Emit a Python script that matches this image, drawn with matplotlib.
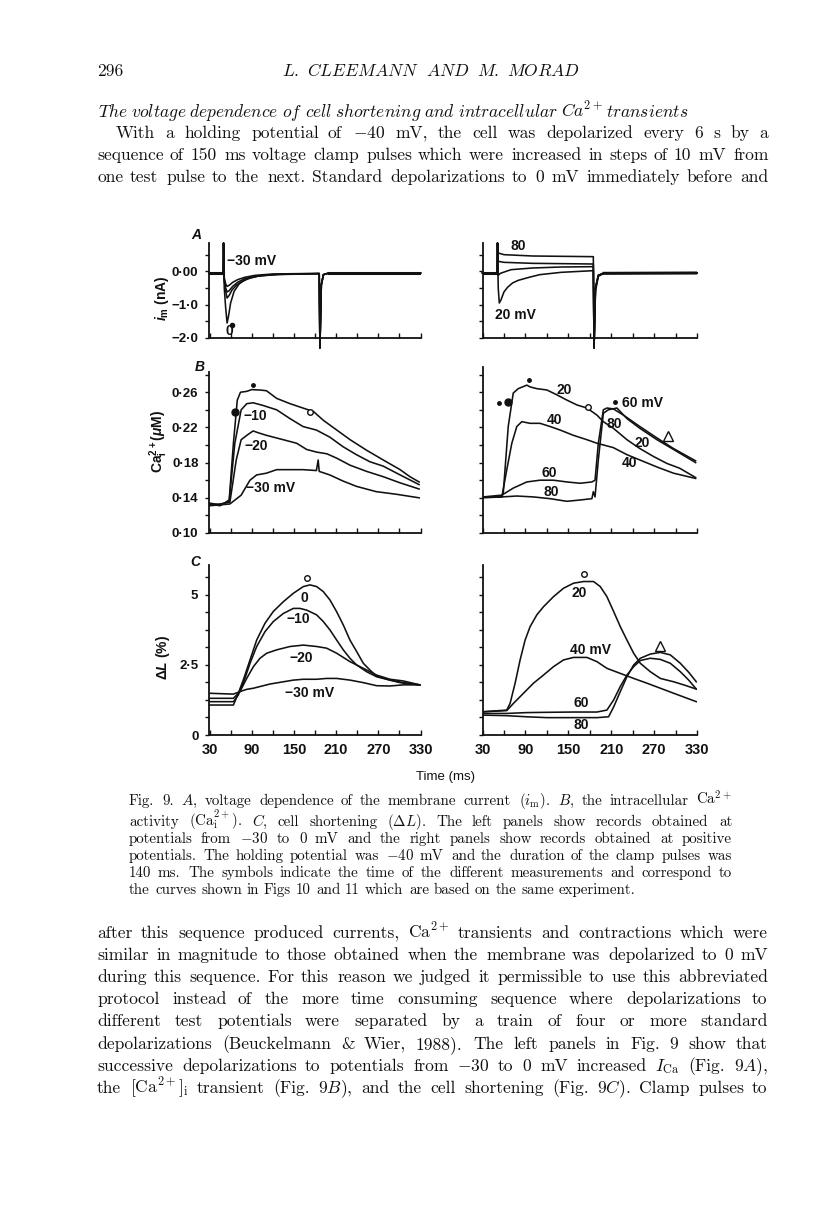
import matplotlib
matplotlib.use("Agg")
import matplotlib.pyplot as plt
from matplotlib.transforms import IdentityTransform

W, H, DPI = 816, 1206, 100

# ======================= DATA =======================
TIME_TICKS = [30, 60, 90, 120, 150, 180, 210, 240, 270, 300, 330]
TIME_LABELS = ["30", "", "90", "", "150", "", "210", "", "270", "", "330"]

# ---- Panel A : membrane current i_m (nA), left = -30..0 mV, right = 20..80 mV
A_YTICKS = [-2.0, -1.5, -1.0, -0.5, 0.0, 0.5]
A_YLABELS = ["\u22122\u00b70", "", "\u22121\u00b70", "", "0\u00b700", ""]
A_L_M30 = [(30, -0.05), (49.5, -0.05), (50, 0.85), (51, -0.2), (53, -0.38), (55, -0.45), (58, -0.42),
           (63, -0.33), (70, -0.25), (80, -0.18), (95, -0.12), (120, -0.08), (186, -0.06),
           (187, -2.3), (189, -0.4), (192, -0.1), (200, -0.05), (330, -0.05)]
A_L_M20 = [(30, -0.05), (49.5, -0.05), (50, 0.85), (51, -0.25), (53, -0.5), (55, -0.62), (58, -0.58),
           (63, -0.45), (70, -0.33), (80, -0.22), (95, -0.15), (120, -0.1), (186, -0.07),
           (187, -2.3), (189, -0.4), (192, -0.1), (200, -0.05), (330, -0.05)]
A_L_M10 = [(30, -0.05), (49.5, -0.05), (50, 0.85), (51, -0.3), (53, -0.6), (55, -0.8), (58, -0.72),
           (62, -0.56), (68, -0.42), (75, -0.32), (85, -0.22), (100, -0.14), (130, -0.09), (186, -0.07),
           (187, -2.3), (189, -0.4), (192, -0.1), (200, -0.05), (330, -0.05)]
A_L_0 = [(30, -0.05), (49.5, -0.05), (50, 0.85), (51, -0.5), (53, -1.1), (55, -1.55), (57, -1.35),
         (60, -0.95), (65, -0.6), (72, -0.38), (80, -0.26), (90, -0.18), (105, -0.12), (130, -0.08),
         (186, -0.07), (187, -2.3), (189, -0.4), (192, -0.1), (200, -0.05), (330, -0.05)]
A_L_DOT = [(62, -1.61)]

A_R_20 = [(30, -0.05), (50.5, -0.05), (51, 0.85), (52, -0.5), (53.5, -0.95), (56, -0.85), (60, -0.62),
          (65, -0.48), (72, -0.35), (80, -0.27), (95, -0.18), (110, -0.1), (140, -0.03), (185, 0.02),
          (186, -2.3), (188, -0.6), (192, -0.15), (200, -0.06), (330, -0.05)]
A_R_40 = [(30, -0.05), (50.5, -0.05), (51, 0.85), (52, -0.12), (55, -0.06), (70, 0.05), (100, 0.1),
          (140, 0.13), (185, 0.14), (186, -2.3), (188, -0.5), (192, -0.12), (200, -0.05), (330, -0.05)]
A_R_60 = [(30, -0.05), (50.5, -0.05), (51, 0.85), (52, 0.3), (60, 0.27), (100, 0.24), (185, 0.22),
          (186, -2.3), (188, -0.5), (192, -0.12), (200, -0.05), (330, -0.05)]
A_R_80 = [(30, -0.05), (50.5, -0.05), (51, 0.85), (52, 0.55), (60, 0.5), (100, 0.46), (185, 0.44),
          (186, -2.3), (188, -0.5), (192, -0.12), (200, -0.05), (330, -0.05)]

# ---- Panel B : Ca_i (uM)
B_YTICKS = [0.10, 0.12, 0.14, 0.16, 0.18, 0.20, 0.22, 0.24, 0.26, 0.28]
B_YLABELS = ["0\u00b710", "", "0\u00b714", "", "0\u00b718", "", "0\u00b722", "", "0\u00b726", ""]
B_L_0 = [(30, 0.133), (45, 0.131), (58, 0.1375), (64, 0.202), (69.5, 0.251), (74, 0.260), (83, 0.261),
         (90, 0.263), (102, 0.2625), (111, 0.2617), (125.5, 0.253), (144.5, 0.247), (163, 0.242),
         (178, 0.238), (192, 0.228), (211, 0.217), (230, 0.206), (253.5, 0.194), (277, 0.183),
         (301, 0.172), (315, 0.164), (328, 0.158)]
B_L_M10 = [(30, 0.134), (45, 0.132), (58, 0.136), (66, 0.202), (75, 0.240), (83, 0.247), (92, 0.248),
           (106, 0.245), (125.5, 0.240), (144.5, 0.230), (163, 0.221), (182, 0.217), (201, 0.209),
           (220, 0.198), (239, 0.189), (258, 0.181), (277, 0.176), (301, 0.166), (328, 0.155)]
B_L_M20 = [(30, 0.132), (45, 0.133), (59, 0.135), (68, 0.183), (75, 0.206), (83, 0.211), (92, 0.216),
           (99, 0.214), (111, 0.211), (135, 0.206), (154, 0.202), (168, 0.195), (182, 0.192),
           (197, 0.190), (211, 0.185), (230, 0.177), (253.5, 0.170), (277, 0.164), (301, 0.157),
           (328, 0.150)]
B_L_M30 = [(30, 0.131), (45, 0.132), (59, 0.133), (75, 0.143), (87.5, 0.160), (97, 0.166), (111, 0.168),
           (125.5, 0.172), (144.5, 0.172), (163, 0.172), (182, 0.171), (184.5, 0.183), (186, 0.170),
           (201, 0.166), (220, 0.159), (239, 0.153), (267, 0.147), (296, 0.144), (328, 0.140)]
B_L_BIG_DOT = [(66.3, 0.2375)]
B_L_SMALL_DOT = [(91.9, 0.268)]
B_L_CIRCLE = [(173, 0.2375)]

B_R_20 = [(31, 0.141), (57, 0.141), (59, 0.145), (66, 0.221), (73, 0.259), (80, 0.264), (92, 0.268),
          (96.5, 0.266), (106, 0.264), (120, 0.2625), (134, 0.257), (148, 0.251), (162, 0.2455),
          (176, 0.242), (190, 0.234), (199, 0.2265), (213, 0.219), (232, 0.206), (250, 0.196),
          (269, 0.187), (288, 0.179), (306, 0.1735), (328, 0.163)]
B_R_40 = [(31, 0.141), (57, 0.141), (64, 0.172), (71, 0.202), (78, 0.221), (85, 0.2265), (96.5, 0.2246),
          (110.5, 0.2246), (124.5, 0.221), (138.5, 0.217), (157, 0.211), (176, 0.206), (190, 0.202),
          (213, 0.197), (232, 0.189), (250, 0.183), (274, 0.175), (297, 0.168), (328, 0.162)]
B_R_60 = [(31, 0.141), (57, 0.143), (73, 0.151), (92, 0.158), (110.5, 0.160), (129, 0.160), (148, 0.158),
          (166.5, 0.1565), (183, 0.158), (187.4, 0.160), (192, 0.202), (199, 0.240), (204, 0.242),
          (213, 0.241), (227, 0.234), (250, 0.221), (274, 0.208), (297, 0.196), (328, 0.182)]
B_R_80 = [(31, 0.140), (57, 0.141), (78, 0.142), (101, 0.141), (124.5, 0.139), (148, 0.136),
          (166.5, 0.1375), (183, 0.139), (185, 0.147), (187.4, 0.141), (192, 0.183), (199, 0.236),
          (206, 0.240), (218, 0.242), (232, 0.230), (250, 0.219), (274, 0.206), (297, 0.195),
          (328, 0.180)]
B_R_BIG_DOT = [(65.7, 0.249)]
B_R_SMALL_DOT = [(53, 0.248), (95, 0.274), (215.4, 0.249)]
B_R_CIRCLE = [(177.7, 0.243)]
B_R_TRIANGLE = [(289.6, 0.210)]

# ---- Panel C : cell shortening dL (%)
C_YTICKS = [0, 0.625, 1.25, 1.875, 2.5, 3.125, 3.75, 4.375, 5.0, 5.625]
C_YLABELS = ["0", "", "", "", "2\u00b75", "", "", "", "5", ""]
C_L_0 = [(30, 1.07), (64, 1.07), (69.5, 1.4), (78, 1.96), (87.6, 2.68), (97.1, 3.39), (108.9, 3.99),
         (120.7, 4.41), (135, 4.76), (149.2, 5.06), (163.4, 5.30), (172.9, 5.36), (182.3, 5.30),
         (191.8, 5.12), (201.3, 4.82), (210.8, 4.40), (220.2, 3.93), (229.7, 3.39), (239.2, 2.98),
         (248.7, 2.56), (258.1, 2.32), (267.6, 2.10), (277.1, 2.03), (286.6, 1.96), (300.8, 1.87),
         (315, 1.82), (329, 1.79)]
C_L_M10 = [(30, 1.19), (64, 1.19), (71, 1.43), (80.4, 2.02), (87.6, 2.56), (97.1, 3.16), (108.9, 3.69),
           (120.7, 4.05), (135, 4.34), (149.2, 4.52), (158.6, 4.52), (168.1, 4.46), (182.3, 4.29),
           (191.8, 4.05), (201.3, 3.75), (210.8, 3.39), (220.2, 3.04), (229.7, 2.74), (239.2, 2.50),
           (253.4, 2.26), (267.6, 2.08), (286.6, 1.96), (305.5, 1.87), (329, 1.79)]
C_L_M20 = [(30, 1.31), (64, 1.31), (73.3, 1.55), (82.9, 2.02), (92.4, 2.44), (101.8, 2.74), (111.3, 2.92),
           (125.5, 3.04), (144.5, 3.16), (163.4, 3.21), (182.3, 3.16), (196.5, 3.10), (210.8, 2.92),
           (229.7, 2.62), (248.7, 2.38), (267.6, 2.14), (286.6, 1.99), (305.5, 1.93), (329, 1.79)]
C_L_M30 = [(30, 1.49), (64, 1.46), (73.3, 1.55), (82.9, 1.63), (92.4, 1.67), (101.8, 1.73), (116, 1.82),
           (135, 1.90), (149.2, 1.96), (163.4, 1.99), (182.3, 1.99), (196.5, 2.02), (210.8, 2.02),
           (229.7, 1.96), (248.7, 1.87), (267.6, 1.76), (286.6, 1.75), (305.5, 1.79), (329, 1.79)]
C_L_CIRCLE = [(168.6, 5.61)]

C_R_20 = [(31, 0.83), (63.9, 0.89), (68.6, 1.13), (75.6, 1.85), (82.6, 2.68), (89.6, 3.39), (96.6, 3.87),
          (106, 4.29), (115.3, 4.58), (129.3, 4.94), (143.3, 5.24), (157.3, 5.42), (171.3, 5.48),
          (185.3, 5.48), (194.7, 5.30), (204, 4.94), (213.4, 4.41), (222.7, 3.87), (232, 3.39),
          (241.4, 2.92), (250.7, 2.56), (264.7, 2.26), (278.7, 2.02), (297.4, 1.90), (311.4, 1.79),
          (329, 1.64)]
C_R_40 = [(31, 0.83), (63.9, 0.87), (73.3, 1.13), (87.3, 1.49), (101.3, 1.85), (115.3, 2.14),
          (129.3, 2.44), (143.3, 2.68), (157.3, 2.77), (176, 2.77), (190, 2.62), (204, 2.38),
          (222.7, 2.20), (241.4, 2.02), (260, 1.85), (278.7, 1.67), (297.4, 1.49), (329, 1.19)]
C_R_60 = [(31, 0.77), (63.9, 0.77), (92, 0.80), (120, 0.81), (157.3, 0.82), (190, 0.82), (204, 0.89),
          (213.4, 1.25), (222.7, 1.73), (232, 2.14), (241.4, 2.44), (250.7, 2.66), (264.7, 2.74),
          (278.7, 2.70), (292.7, 2.56), (306.7, 2.26), (318.4, 1.96), (329, 1.64)]
C_R_80 = [(31, 0.71), (63.9, 0.69), (92, 0.65), (120, 0.62), (157.3, 0.62), (190, 0.62), (206.3, 0.65),
          (213.4, 1.0), (222.7, 1.55), (232, 2.08), (241.4, 2.50), (250.7, 2.74), (264.7, 2.89),
          (278.7, 2.95), (292.7, 2.86), (306.7, 2.56), (318.4, 2.24), (329, 1.90)]
C_R_CIRCLE = [(172, 5.75)]
C_R_TRIANGLE = [(278.4, 3.18)]

# ---- Page text
PAGE_NUMBER = "296"
RUNNING_HEAD = ["L.", "CLEEMANN", "AND", "M.", "MORAD"]
SECTION_HEAD = ["The", "voltage", "dependence", "of", "cell", "shortening", "and", "intracellular",
                "Ca^{2+}", "transients"]
PARA1 = [r"With a holding potential of $-$40 mV, the cell was depolarized every 6 s by a",
         r"sequence of 150 ms voltage clamp pulses which were increased in steps of 10 mV from",
         r"one test pulse to the next. Standard depolarizations to 0 mV immediately before and"]
CAPTION = [r"Fig. 9. $A$, voltage dependence of the membrane current $(i_{\mathrm{m}})$. $B$, the intracellular Ca$^{2+}$",
           r"activity (Ca$_{\mathrm{i}}^{2+}$). $C$, cell shortening $(\Delta{L})$. The left panels show records obtained at",
           r"potentials from $-$30 to 0 mV and the right panels show records obtained at positive",
           r"potentials. The holding potential was $-$40 mV and the duration of the clamp pulses was",
           r"140 ms. The symbols indicate the time of the different measurements and correspond to",
           r"the curves shown in Figs 10 and 11 which are based on the same experiment."]
PARA2 = [r"after this sequence produced currents, Ca$^{2+}$ transients and contractions which were",
         r"similar in magnitude to those obtained when the membrane was depolarized to 0 mV",
         r"during this sequence. For this reason we judged it permissible to use this abbreviated",
         r"protocol instead of the more time consuming sequence where depolarizations to",
         r"different test potentials were separated by a train of four or more standard",
         r"depolarizations (Beuckelmann & Wier, 1988). The left panels in Fig. 9 show that",
         r"successive depolarizations to potentials from $-$30 to 0 mV increased $I_{\mathrm{Ca}}$ (Fig. 9$A$),",
         r"the [Ca$^{2+}$]$_{\mathrm{i}}$ transient (Fig. 9$B$), and the cell shortening (Fig. 9$C$). Clamp pulses to"]

# ======================= STYLE =======================
plt.rcParams["mathtext.fontset"] = "custom"
plt.rcParams["mathtext.rm"] = "Liberation Sans:bold"
plt.rcParams["mathtext.it"] = "Liberation Sans:italic:bold"
plt.rcParams["mathtext.bf"] = "Liberation Sans:bold"
plt.rcParams["mathtext.sf"] = "Liberation Sans:bold"

SANS = ["Liberation Sans", "DejaVu Sans"]
SERIF = ["cmr10", "DejaVu Serif"]
INK = "#111111"

fig = plt.figure(figsize=(W / DPI, H / DPI), dpi=DPI)
fig.patch.set_facecolor("white")
renderer = fig.canvas.get_renderer()


def ax_at(x0, x1, ytop, ybot):
    return fig.add_axes([x0 / W, 1 - ybot / H, (x1 - x0) / W, (ybot - ytop) / H])


def style(ax, ylim, yticks, ylabels, xlabels):
    ax.set_facecolor("none")
    ax.set_xlim(30, 330)
    ax.set_ylim(*ylim)
    for s in ("top", "right"):
        ax.spines[s].set_visible(False)
    for s in ("left", "bottom"):
        ax.spines[s].set_linewidth(1.3)
        ax.spines[s].set_color(INK)
    ax.set_xticks(TIME_TICKS)
    ax.set_xticklabels(TIME_LABELS if xlabels else [""] * len(TIME_TICKS))
    ax.set_yticks(yticks)
    ax.set_yticklabels(ylabels if ylabels else [""] * len(yticks))
    ax.tick_params(axis="x", direction="in", length=3.5, width=1.0, pad=6, colors=INK)
    ax.tick_params(axis="y", direction="out", length=3, width=1.0, pad=5, colors=INK)
    for lab in ax.get_xticklabels():
        lab.set_fontfamily(SANS)
        lab.set_fontweight("bold")
        lab.set_fontsize(10.5)
    for lab in ax.get_yticklabels():
        lab.set_fontfamily(SANS)
        lab.set_fontweight("bold")
        lab.set_fontsize(9.5)


def trace(ax, pts, lw=1.15, clip=True):
    ax.plot([p[0] for p in pts], [p[1] for p in pts], color=INK, lw=lw, clip_on=clip,
            solid_joinstyle="round")


def marks(ax, pts, marker, ms, filled=True):
    ax.plot([p[0] for p in pts], [p[1] for p in pts], linestyle="none", marker=marker, ms=ms,
            mfc=INK if filled else "white", mec=INK, mew=1.0, clip_on=False)


def lab(ax, t, v, s, ha="left", va="baseline", size=10):
    ax.text(t, v, s, ha=ha, va=va, fontsize=size, fontweight="bold", family=SANS,
            math_fontfamily="custom", color=INK)


# ---------------- Panel A ----------------
axAL = ax_at(209.5, 420.5, 243, 338)
axAR = ax_at(482.5, 697, 243, 338)
style(axAL, (-2.0, 0.85), A_YTICKS, A_YLABELS, False)
style(axAR, (-2.0, 0.85), A_YTICKS, None, False)
for tr in (A_L_M30, A_L_M20, A_L_M10, A_L_0):
    trace(axAL, tr, clip=False)
trace(axAL, A_L_0[:2], lw=2.2)
trace(axAL, A_L_0[-2:], lw=2.2)
marks(axAL, A_L_DOT, "o", 3)
lab(axAL, 55, 0.19, "\u221230 mV")
lab(axAL, 57.7, -1.99, "0", ha="center", va="bottom")
for tr in (A_R_20, A_R_40, A_R_60, A_R_80):
    trace(axAR, tr, clip=False)
trace(axAR, A_R_20[:2], lw=2.2)
trace(axAR, A_R_20[-2:], lw=2.2)
lab(axAR, 68.5, 0.64, "80")
lab(axAR, 47.5, -1.43, "20 mV")

# ---------------- Panel B ----------------
axBL = ax_at(209.5, 420.5, 372, 533)
axBR = ax_at(482.5, 697, 367, 533)
style(axBL, (0.10, 0.283), B_YTICKS, B_YLABELS, False)
style(axBR, (0.10, 0.2886), B_YTICKS, None, False)
for tr in (B_L_0, B_L_M10, B_L_M20, B_L_M30):
    trace(axBL, tr)
marks(axBL, B_L_BIG_DOT, "o", 5)
marks(axBL, B_L_SMALL_DOT, "o", 2.5)
marks(axBL, B_L_CIRCLE, "o", 4, filled=False)
lab(axBL, 77.6, 0.2284, "\u221210")
lab(axBL, 79, 0.1943, "\u221220")
lab(axBL, 82, 0.1466, "\u221230 mV")
for tr in (B_R_20, B_R_40, B_R_60, B_R_80):
    trace(axBR, tr)
marks(axBR, B_R_BIG_DOT, "o", 5)
marks(axBR, B_R_SMALL_DOT, "o", 2.5)
marks(axBR, B_R_CIRCLE, "o", 4, filled=False)
marks(axBR, B_R_TRIANGLE, "^", 7, filled=False)
lab(axBR, 134, 0.258, "20")
lab(axBR, 120, 0.2239, "40")
lab(axBR, 113, 0.1636, "60")
lab(axBR, 115, 0.142, "80")
lab(axBR, 204, 0.2193, "80")
lab(axBR, 243, 0.1977, "20")
lab(axBR, 225, 0.175, "40")
lab(axBR, 225, 0.2432, "60 mV")

# ---------------- Panel C ----------------
axCL = ax_at(209.5, 420.5, 565, 735)
axCR = ax_at(482.5, 697, 565, 735)
style(axCL, (0, 6.07), C_YTICKS, C_YLABELS, True)
style(axCR, (0, 6.07), C_YTICKS, None, True)
for tr in (C_L_0, C_L_M10, C_L_M20, C_L_M30):
    trace(axCL, tr)
marks(axCL, C_L_CIRCLE, "o", 4, filled=False)
lab(axCL, 158.7, 4.75, "0")
lab(axCL, 140, 4.0, "\u221210")
lab(axCL, 143, 2.61, "\u221220")
lab(axCL, 137, 1.36, "\u221230 mV")
for tr in (C_R_20, C_R_40, C_R_60, C_R_80):
    trace(axCR, tr)
marks(axCR, C_R_CIRCLE, "o", 4, filled=False)
marks(axCR, C_R_TRIANGLE, "^", 7, filled=False)
lab(axCR, 155, 4.93, "20")
lab(axCR, 152.5, 2.89, "40 mV")
lab(axCR, 156.7, 1.0, "60")
lab(axCR, 156.7, 0.21, "80")


# ---------------- figure-level labels ----------------
def ftext(x, y, s, **kw):
    base = dict(transform=IdentityTransform(), color=INK)
    base.update(kw)
    return fig.text(x, H - y, s, **base)


ftext(196, 235, "A", ha="center", va="center", fontsize=10, fontweight="bold", style="italic", family=SANS)
ftext(200, 367, "B", ha="center", va="center", fontsize=10, fontweight="bold", style="italic", family=SANS)
ftext(195, 562, "C", ha="center", va="center", fontsize=10, fontweight="bold", style="italic", family=SANS)
ftext(162, 298, r"$i_{\mathrm{m}}$ (nA)", ha="center", va="center", rotation=90, fontsize=10,
      fontweight="bold", family=SANS, math_fontfamily="custom")
ftext(159, 441, r"Ca$_{\mathrm{i}}^{2+}$($\mu$M)", ha="center", va="center", rotation=90, fontsize=10,
      fontweight="bold", family=SANS, math_fontfamily="custom")
ftext(163, 657, r"$\Delta L$ (%)", ha="center", va="center", rotation=90, fontsize=10,
      fontweight="bold", family=SANS, math_fontfamily="custom")
ftext(445, 780, "Time (ms)", ha="center", va="baseline", fontsize=9.5, family=SANS)


# ---------------- page text ----------------
def place_words(words, x0, y, size, x1=None):
    y = round(y)
    ts = [ftext(0, 0, w, fontsize=size, family=SERIF, math_fontfamily="cm", ha="left",
                va="baseline") for w in words]
    ws = [t.get_window_extent(renderer=renderer).width for t in ts]
    space = 0.333 * size * DPI / 72
    if x1 is None or len(words) < 2:
        gap = space
    else:
        gap = max((x1 - x0 - sum(ws)) / (len(words) - 1), 0.5 * space)
    x = x0
    for t, w in zip(ts, ws):
        t.set_position((round(x), H - y))
        x += w + gap


def it(w):
    head, _, sup = w.partition("^")
    return r"$\mathit{" + head + "}" + ("^" + sup if sup else "") + "$"


BODY = 12.6
CAP = 10.8
CAPTION_BASELINES = [805, 826, 843, 860, 877, 894]
PARA1_BASELINES = [138, 160, 182]
PARA2_BASELINES = [938, 960, 982, 1004, 1026, 1049, 1071, 1093]
place_words([PAGE_NUMBER], 97, 76, BODY)
place_words([it(w) for w in RUNNING_HEAD], 282, 76, BODY, 580)
place_words([it(w) for w in SECTION_HEAD], 98, 117, BODY, 673)
for i, line in enumerate(PARA1):
    place_words(line.split(" "), 116 if i == 0 else 97, PARA1_BASELINES[i], BODY, 768)
for i, line in enumerate(CAPTION):
    last = i == len(CAPTION) - 1
    place_words(line.split(" "), 129, CAPTION_BASELINES[i], CAP, None if last else 732)
for i, line in enumerate(PARA2):
    place_words(line.split(" "), 97, PARA2_BASELINES[i], BODY, 768)

fig.savefig("out.png", dpi=DPI, facecolor="white")
